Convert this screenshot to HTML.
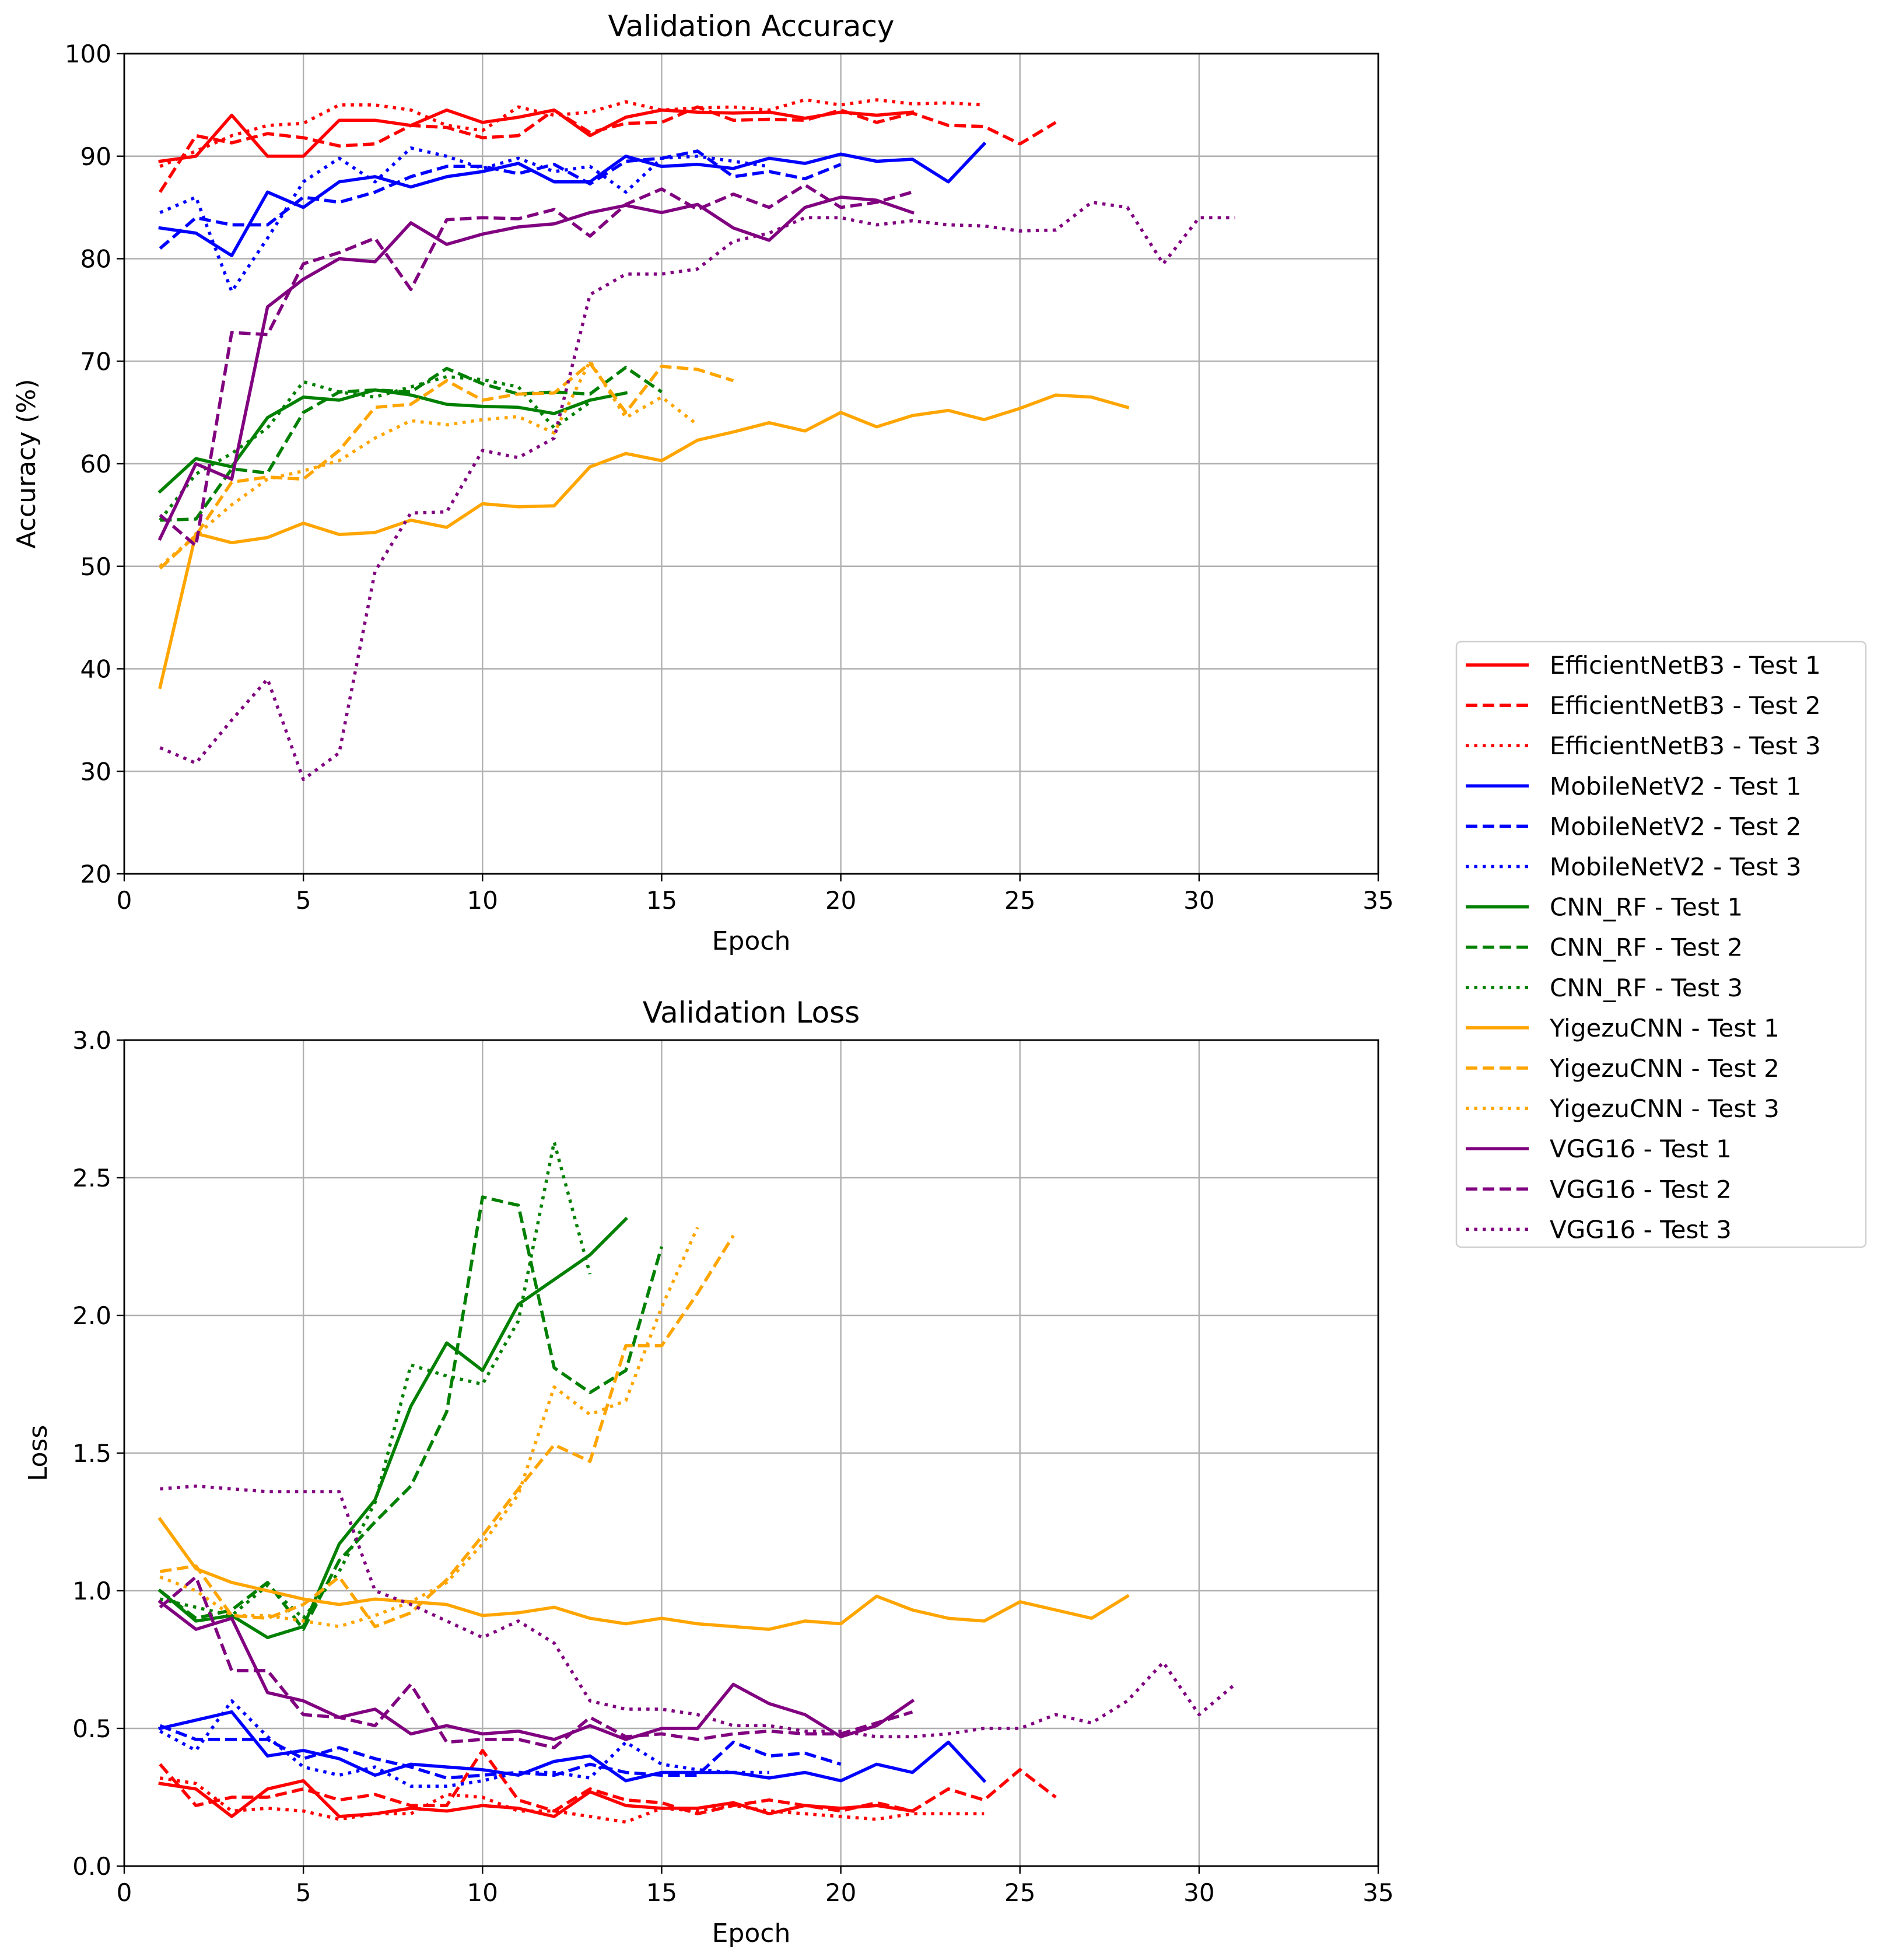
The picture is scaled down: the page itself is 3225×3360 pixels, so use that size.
<!DOCTYPE html>
<html><head><meta charset="utf-8"><style>
html,body{margin:0;padding:0;background:#fff}
svg{display:block;font-family:"DejaVu Sans","Liberation Sans",sans-serif}
</style></head><body>
<svg id="chart" width="3225" height="3360" viewBox="0 0 3225 3360" xmlns="http://www.w3.org/2000/svg">
<rect width="3225" height="3360" fill="#fff"/>
<g id="g"></g>
</svg>
<script>
const models = ["EfficientNetB3","MobileNetV2","CNN_RF","YigezuCNN","VGG16"];
const colors = ["#ff0000","#0000ff","#008000","#ffa500","#800080"];
const tests = ["Test 1","Test 2","Test 3"];
const xTicks = [0,5,10,15,20,25,30,35];
const accTicks = [20,30,40,50,60,70,80,90,100];
const lossTicks = [0.0,0.5,1.0,1.5,2.0,2.5,3.0];

const accEff1=[89.5,90,94,90,90,93.5,93.5,93,94.5,93.3,93.8,94.5,92,93.8,94.5,94.3,94.2,94.3,93.7,94.3,94,94.3];
const accEff2=[86.5,92,91.3,92.2,91.8,91,91.2,93,92.8,91.8,92,94.5,92.3,93.2,93.3,94.8,93.5,93.6,93.5,94.5,93.3,94.2,93,92.9,91.2,93.3];
const accEff3=[89,90.5,92,93,93.2,95,95,94.5,93,92.5,94.8,94,94.3,95.3,94.5,94.7,94.8,94.5,95.5,95,95.5,95.1,95.2,95];
const accMob1=[83,82.5,80.3,86.5,85,87.5,88,87,88,88.5,89.3,87.5,87.5,90,89,89.2,88.8,89.8,89.3,90.2,89.5,89.7,87.5,91.2];
const accMob2=[81,84,83.3,83.3,86,85.5,86.5,88,89,89,88.3,89.2,87.3,89.5,89.8,90.5,88,88.5,87.8,89.2];
const accMob3=[84.5,86,76.8,82,87.5,89.8,87.5,90.8,90,88.8,89.8,88.5,89,86.5,89.8,90,89.5,89];
const accCnn1=[57.3,60.5,59.7,64.5,66.5,66.2,67.2,66.7,65.8,65.6,65.5,64.9,66.2,66.9];
const accCnn2=[54.5,54.6,59.5,59.1,65,67,67.2,67,69.3,67.8,66.8,67,66.8,69.4,67];
const accCnn3=[54.5,59,61,63.5,68,67,66.5,67.5,68.5,68.2,67.5,63.5,66];
const accYig1=[38.2,53.2,52.3,52.8,54.2,53.1,53.3,54.5,53.8,56.1,55.8,55.9,59.7,61,60.3,62.3,63.1,64,63.2,65,63.6,64.7,65.2,64.3,65.4,66.7,66.5,65.5];
const accYig2=[49.8,53,58.2,58.7,58.5,61.3,65.5,65.8,68.1,66.2,66.8,66.9,69.8,65,69.5,69.2,68.1];
const accYig3=[50,53,56,58.5,59.3,60.3,62.5,64.2,63.8,64.3,64.6,63,70,64.5,66.5,63.8];
const accVgg1=[52.7,60,58.5,75.3,78,80,79.7,83.5,81.4,82.4,83.1,83.4,84.5,85.2,84.5,85.3,83,81.8,85,86,85.7,84.5];
const accVgg2=[55,52,72.8,72.6,79.5,80.6,82,77,83.8,84,83.9,84.8,82.2,85.3,86.8,84.8,86.3,85,87.2,85,85.5,86.5];
const accVgg3=[32.3,30.8,35,39,29.2,31.8,49.5,55.2,55.3,61.3,60.6,62.5,76.5,78.5,78.5,79,81.7,82.5,84,84,83.3,83.7,83.3,83.2,82.7,82.8,85.5,85,79.5,84,84];

const lossEff1=[0.30,0.28,0.18,0.28,0.31,0.18,0.19,0.21,0.20,0.22,0.21,0.18,0.27,0.22,0.21,0.21,0.23,0.19,0.22,0.21,0.22,0.20];
const lossEff2=[0.37,0.22,0.25,0.25,0.28,0.24,0.26,0.22,0.22,0.42,0.24,0.20,0.28,0.24,0.23,0.19,0.22,0.24,0.22,0.20,0.23,0.20,0.28,0.24,0.35,0.25];
const lossEff3=[0.32,0.30,0.20,0.21,0.20,0.17,0.19,0.19,0.26,0.25,0.20,0.20,0.18,0.16,0.21,0.20,0.22,0.20,0.19,0.18,0.17,0.19,0.19,0.19];
const lossMob1=[0.50,0.53,0.56,0.40,0.42,0.39,0.33,0.37,0.36,0.35,0.33,0.38,0.40,0.31,0.34,0.34,0.34,0.32,0.34,0.31,0.37,0.34,0.45,0.31];
const lossMob2=[0.51,0.46,0.46,0.46,0.39,0.43,0.39,0.36,0.32,0.33,0.34,0.33,0.37,0.34,0.33,0.33,0.45,0.40,0.41,0.37];
const lossMob3=[0.49,0.42,0.60,0.47,0.36,0.33,0.36,0.29,0.29,0.31,0.34,0.34,0.32,0.45,0.37,0.35,0.34,0.34];
const lossCnn1=[1.00,0.89,0.91,0.83,0.87,1.17,1.33,1.67,1.90,1.80,2.04,2.13,2.22,2.35];
const lossCnn2=[1.00,0.90,0.93,1.03,0.86,1.11,1.25,1.38,1.65,2.43,2.40,1.81,1.72,1.80,2.25];
const lossCnn3=[0.97,0.94,0.91,1.02,0.90,1.07,1.32,1.82,1.78,1.75,1.98,2.63,2.15];
const lossYig1=[1.26,1.08,1.03,1.00,0.97,0.95,0.97,0.96,0.95,0.91,0.92,0.94,0.90,0.88,0.90,0.88,0.87,0.86,0.89,0.88,0.98,0.93,0.90,0.89,0.96,0.93,0.90,0.98];
const lossYig2=[1.07,1.09,0.91,0.90,0.95,1.05,0.87,0.92,1.04,1.20,1.37,1.53,1.47,1.89,1.89,2.08,2.29];
const lossYig3=[1.05,1.00,0.91,0.91,0.89,0.87,0.91,0.96,1.03,1.17,1.35,1.74,1.64,1.69,2.03,2.32];
const lossVgg1=[0.96,0.86,0.90,0.63,0.60,0.54,0.57,0.48,0.51,0.48,0.49,0.46,0.51,0.46,0.50,0.50,0.66,0.59,0.55,0.47,0.51,0.60];
const lossVgg2=[0.94,1.05,0.71,0.71,0.55,0.54,0.51,0.66,0.45,0.46,0.46,0.43,0.54,0.47,0.48,0.46,0.48,0.49,0.48,0.48,0.52,0.56];
const lossVgg3=[1.37,1.38,1.37,1.36,1.36,1.36,1.00,0.95,0.89,0.83,0.89,0.81,0.60,0.57,0.57,0.55,0.51,0.51,0.49,0.49,0.47,0.47,0.48,0.50,0.50,0.55,0.52,0.60,0.74,0.55,0.66];

const accSeries=[[accEff1,accEff2,accEff3],[accMob1,accMob2,accMob3],[accCnn1,accCnn2,accCnn3],[accYig1,accYig2,accYig3],[accVgg1,accVgg2,accVgg3]];
const lossSeries=[[lossEff1,lossEff2,lossEff3],[lossMob1,lossMob2,lossMob3],[lossCnn1,lossCnn2,lossCnn3],[lossYig1,lossYig2,lossYig3],[lossVgg1,lossVgg2,lossVgg3]];

const NS="http://www.w3.org/2000/svg";
const root=document.getElementById('g');
const X0=213,X1=2363;
function mk(tag,attrs,parent){const e=document.createElementNS(NS,tag);for(const k in attrs)e.setAttribute(k,attrs[k]);(parent||root).appendChild(e);return e;}
const LW=5.5;
const dashes=[null,"20,9","5.5,9"];
function xs(e){return X0+(e-0)*(X1-X0)/35;}

function panel(key,title,ylab,Y0,Y1,vmin,vmax,ticks,fmt,series){
  const ys=v=>Y1-(v-vmin)*(Y1-Y0)/(vmax-vmin);
  const g=mk('g',{});
  
  
  const grid=mk('g',{},g);
  
  
  xTicks.forEach(t=>{
    mk('line',{x1:xs(t),x2:xs(t),y1:Y0,y2:Y1,stroke:'#b0b0b0','stroke-width':2.4},grid);
    mk('line',{x1:xs(t),x2:xs(t),y1:Y1,y2:Y1+13,stroke:'#000','stroke-width':2.4},grid);
    const tx=mk('text',{x:xs(t),y:Y1+60,'font-size':42,'text-anchor':'middle',fill:'#000'},g);
    tx.textContent=t;
    
    
  });
  ticks.forEach(t=>{
    mk('line',{x1:X0,x2:X1,y1:ys(t),y2:ys(t),stroke:'#b0b0b0','stroke-width':2.4},grid);
    mk('line',{x1:X0-13,x2:X0,y1:ys(t),y2:ys(t),stroke:'#000','stroke-width':2.4},grid);
    const tx=mk('text',{x:X0-22,y:ys(t)+15,'font-size':42,'text-anchor':'end',fill:'#000'},g);
    tx.textContent=fmt(t);
    
    
  });
  const clipId='clip-'+key;
  const cp=mk('clipPath',{id:clipId},g);
  mk('rect',{x:X0,y:Y0,width:X1-X0,height:Y1-Y0},cp);
  const lines=mk('g',{'clip-path':'url(#'+clipId+')'},g);
  series.forEach((ms,mi)=>ms.forEach((arr,ti)=>{
    const pts=arr.map((v,i)=>xs(i+1).toFixed(1)+','+ys(v).toFixed(1)).join(' ');
    const a={points:pts,fill:'none',stroke:colors[mi],'stroke-width':LW,'stroke-linejoin':'round','stroke-linecap':ti===0?'square':'butt'};
    if(dashes[ti])a['stroke-dasharray']=dashes[ti];
    const pl=mk('polyline',a,lines);
    
    
  }));
  const fr=mk('rect',{x:X0,y:Y0,width:X1-X0,height:Y1-Y0,fill:'none',stroke:'#000','stroke-width':2.8},g);
  
  
  const tt=mk('text',{x:(X0+X1)/2,y:Y0-30,'font-size':50,'text-anchor':'middle',fill:'#000'},g);
  tt.textContent=title;
  
  
  const xl=mk('text',{x:(X0+X1)/2,y:Y1+130,'font-size':44,'text-anchor':'middle',fill:'#000'},g);
  xl.textContent='Epoch';
  
  
  const cy=(Y0+Y1)/2;
  const yl=mk('text',{x:0,y:0,'font-size':44,'text-anchor':'middle',fill:'#000',transform:'translate('+(key==='accuracy'?60:80)+','+cy+') rotate(-90)'},g);
  yl.textContent=ylab;
  
  
}
panel('accuracy','Validation Accuracy','Accuracy (%)',92,1498,20,100,accTicks,t=>String(t),accSeries);
panel('loss','Validation Loss','Loss',1783,3199,0,3,lossTicks,t=>t.toFixed(1),lossSeries);

// legend
const lg=mk('g',{});


const box=mk('rect',{x:2497,y:1100,width:702,height:1038,rx:8,fill:'#fff',stroke:'#d0d0d0','stroke-width':2.5},lg);


let row=0;
models.forEach((m,mi)=>tests.forEach((t,ti)=>{
  const y=1140+row*69.1;
  const a={x1:2513,x2:2621,y1:y,y2:y,stroke:colors[mi],'stroke-width':LW};
  if(dashes[ti])a['stroke-dasharray']=dashes[ti];
  const ln=mk('line',a,lg);
  
  
  const tx=mk('text',{x:2657,y:y+15,'font-size':42,fill:'#000'},lg);
  tx.textContent=m+' - '+t;
  
  
  row++;
}));
</script>
</body></html>
